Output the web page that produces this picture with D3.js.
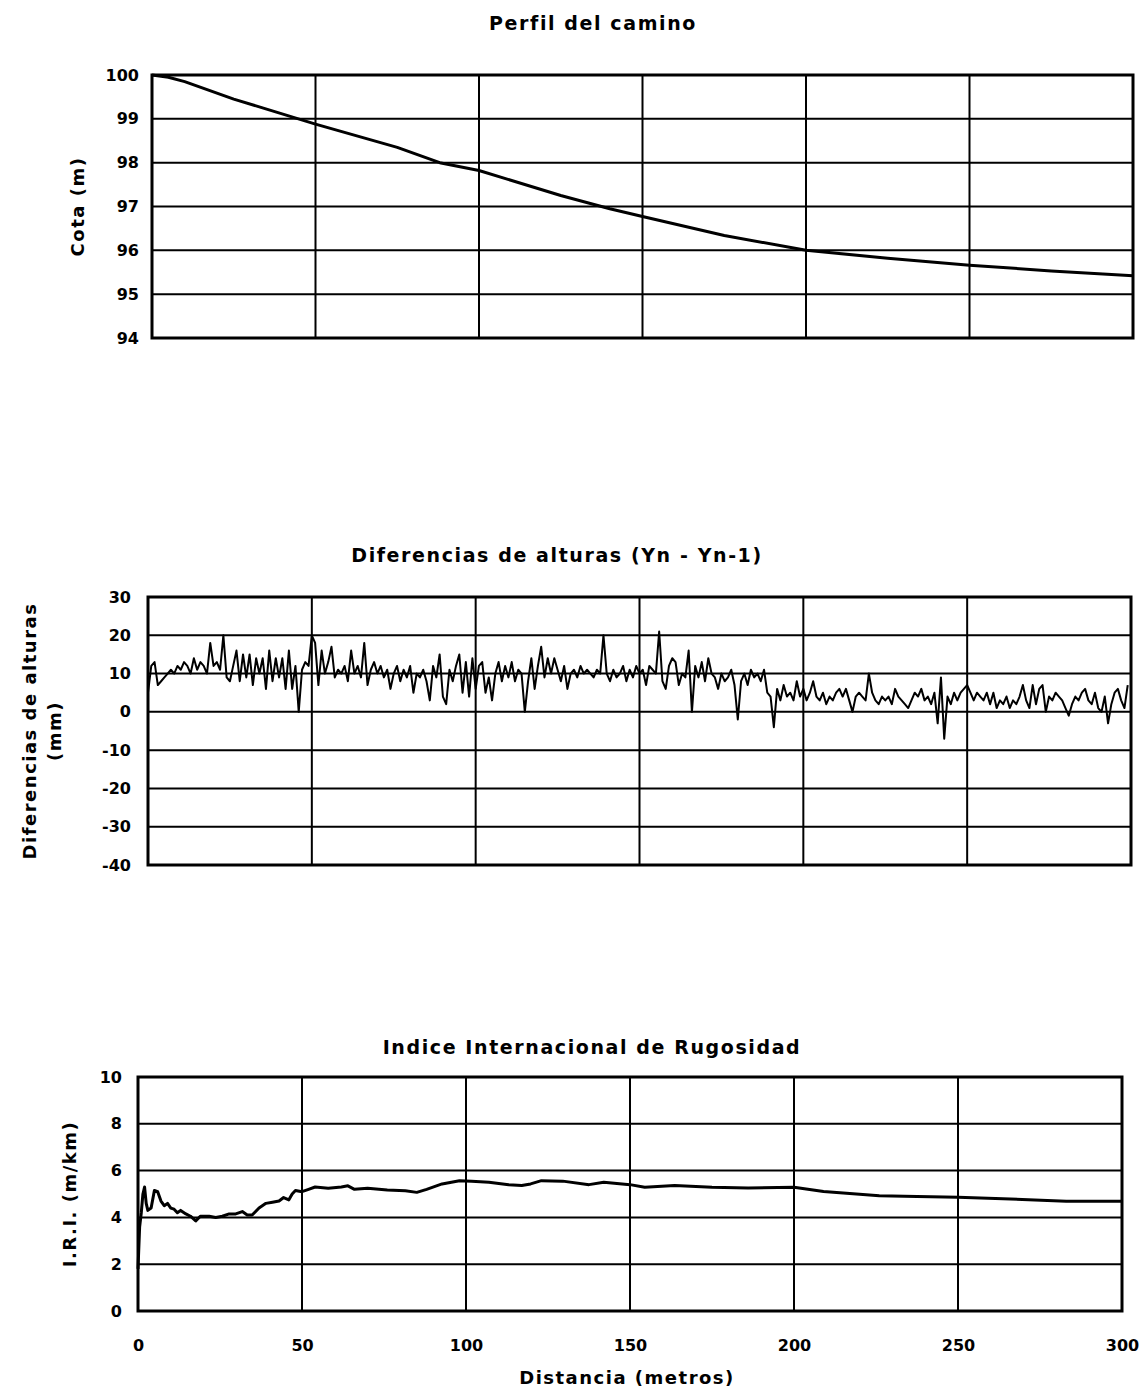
<!DOCTYPE html>
<html>
<head>
<meta charset="utf-8">
<script src="https://cdn.jsdelivr.net/npm/d3@7"></script>
<style>
    body { margin: 0; background: #fff; }
    text { font-family: "DejaVu Sans", sans-serif; font-weight: bold; fill: #000; }
</style>
</head>
<body>
<div id="chart"></div>
<script>
// distance axis (metros)
const distTicks = [0, 50, 100, 150, 200, 250, 300];
const distGrid = [50, 100, 150, 200, 250];

// Perfil del camino
const perfilX = [0, 5, 10, 25, 50, 75, 88, 100, 125, 140, 150, 175, 200, 225, 250, 275, 300];
const perfilCota = [100, 99.95, 99.85, 99.45, 98.88, 98.35, 98.0, 97.82, 97.25, 96.95, 96.77,
    96.34, 96.0, 95.82, 95.66, 95.53, 95.42];
const cotaTicks = [94, 95, 96, 97, 98, 99, 100];

// Diferencias de alturas (Yn - Yn-1), one reading per metre
const difStep = 1;
const difValues = [
    5, 12, 13, 7, 8, 9, 10, 11, 10, 12,
    11, 13, 12, 10, 14, 11, 13, 12, 10, 18,
    12, 13, 11, 20, 9, 8, 12, 16, 8, 15,
    9, 15, 7, 14, 10, 14, 6, 16, 8, 14,
    9, 14, 6, 16, 6, 12, 0, 11, 13, 12,
    20, 18, 7, 16, 10, 13, 17, 9, 11, 10,
    12, 8, 16, 10, 12, 9, 18, 7, 11, 13,
    10, 12, 9, 11, 6, 10, 12, 8, 11, 9,
    12, 5, 10, 9, 11, 8, 3, 12, 9, 15,
    4, 2, 11, 8, 12, 15, 5, 13, 4, 14,
    6, 12, 13, 5, 9, 3, 10, 13, 8, 12,
    9, 13, 8, 11, 10, 0, 8, 14, 6, 12,
    17, 9, 14, 10, 14, 11, 8, 12, 6, 10,
    11, 9, 12, 10, 11, 10, 9, 11, 10, 20,
    10, 8, 11, 9, 10, 12, 8, 11, 9, 12,
    10, 11, 7, 12, 11, 10, 21, 8, 6, 12,
    14, 13, 7, 10, 9, 16, 0, 12, 9, 13,
    8, 14, 10, 9, 6, 10, 8, 9, 11, 7,
    -2, 8, 10, 7, 11, 9, 10, 8, 11, 5,
    4, -4, 6, 3, 7, 4, 5, 3, 8, 4,
    6, 3, 5, 8, 4, 3, 5, 2, 4, 3,
    5, 6, 4, 6, 3, 0, 4, 5, 4, 3,
    10, 5, 3, 2, 4, 3, 4, 2, 6, 4,
    3, 2, 1, 3, 5, 4, 6, 3, 4, 2,
    5, -3, 9, -7, 4, 2, 5, 3, 5, 6,
    7, 5, 3, 5, 4, 3, 5, 2, 5, 1,
    3, 2, 4, 1, 3, 2, 4, 7, 3, 1,
    7, 2, 6, 7, 0, 4, 3, 5, 4, 3,
    1, -1, 2, 4, 3, 5, 6, 3, 2, 5,
    1, 0, 4, -3, 2, 5, 6, 3, 1, 7,
];
const difTicks = [-40, -30, -20, -10, 0, 10, 20, 30];

// Indice Internacional de Rugosidad
const iriX = [0, 0.5, 1, 1.5, 2, 2.5, 3, 4, 5, 6, 7, 8, 9, 10, 11, 12, 13, 14.6, 16, 17.6, 19,
    21.7, 23.7, 25.7, 27.8, 29.8, 31.8, 33.3, 34.8, 36.9, 39, 41, 43, 44.4, 46, 47, 48, 50, 52,
    54, 58, 62, 64, 66, 70, 76, 81.5, 85, 88, 92.7, 98, 101.7, 107, 113, 117, 119.7, 123, 129.5,
    137.5, 142, 150, 154.5, 163.6, 175, 186, 200, 209, 226, 237.5, 250, 266, 283, 300];
const iriValues = [1.8, 3.6, 4.2, 5.0, 5.3, 4.6, 4.3, 4.4, 5.15, 5.1, 4.7, 4.5, 4.6, 4.4, 4.35,
    4.2, 4.3, 4.15, 4.05, 3.85, 4.05, 4.05, 4.0, 4.05, 4.15, 4.15, 4.25, 4.1, 4.1, 4.4, 4.6, 4.65,
    4.7, 4.85, 4.75, 5.0, 5.15, 5.1, 5.2, 5.3, 5.25, 5.3, 5.35, 5.2, 5.25, 5.17, 5.14, 5.07, 5.2,
    5.43, 5.57, 5.54, 5.5, 5.4, 5.36, 5.43, 5.57, 5.55, 5.4, 5.5, 5.4, 5.29, 5.36, 5.29, 5.26,
    5.29, 5.11, 4.93, 4.89, 4.86, 4.79, 4.69, 4.69];
const iriTicks = [0, 2, 4, 6, 8, 10];

const svg = d3.select('#chart')
    .append('svg')
    .attr('width', 1148)
    .attr('height', 1393);

// plain hyphen for negatives, like the original sheet
const tickFmt = d => String(d);

function drawPanel(p) {
    const x = d3.scaleLinear().domain([0, 300]).range([p.left, p.right]);
    const y = d3.scaleLinear().domain(d3.extent(p.yTicks)).range([p.bottom, p.top]);
    const g = svg.append('g');

    // grid
    g.append('g').selectAll('line')
        .data(p.yTicks.slice(1, -1))
        .enter()
        .append('line')
        .attr('x1', p.left).attr('x2', p.right)
        .attr('y1', d => y(d)).attr('y2', d => y(d))
        .attr('stroke', '#000').attr('stroke-width', 2);
    g.append('g').selectAll('line')
        .data(distGrid)
        .enter()
        .append('line')
        .attr('x1', d => x(d)).attr('x2', d => x(d))
        .attr('y1', p.top).attr('y2', p.bottom)
        .attr('stroke', '#000').attr('stroke-width', 2);

    // y axis labels
    g.append('g')
        .attr('transform', 'translate(' + p.left + ',0)')
        .call(d3.axisLeft(y).tickValues(p.yTicks).tickFormat(tickFmt).tickSize(0).tickPadding(p.yPad))
        .call(a => a.select('.domain').remove())
        .selectAll('text')
        .style('font-size', '16px')
        .style('font-family', '"DejaVu Sans", sans-serif');

    if (p.xLabels) {
        g.append('g')
            .attr('transform', 'translate(0,' + p.bottom + ')')
            .call(d3.axisBottom(x).tickValues(distTicks).tickFormat(tickFmt).tickSize(0).tickPadding(29))
            .call(a => a.select('.domain').remove())
            .selectAll('text')
            .style('font-size', '16px')
            .style('font-family', '"DejaVu Sans", sans-serif');
    }

    // the data line
    g.append('path')
        .datum(p.data)
        .attr('fill', 'none')
        .attr('stroke', '#000')
        .attr('stroke-width', p.lineWidth)
        .attr('stroke-linejoin', 'round')
        .attr('d', d3.line()
            .x(d => x(d[0]))
            .y(d => y(d[1])));

    // plot border
    g.append('rect')
        .attr('x', p.left).attr('y', p.top)
        .attr('width', p.right - p.left).attr('height', p.bottom - p.top)
        .attr('fill', 'none').attr('stroke', '#000').attr('stroke-width', 3);

    // title
    g.append('text')
        .attr('x', p.titleX).attr('y', p.titleY)
        .attr('text-anchor', 'middle')
        .style('font-size', '19px')
        .style('letter-spacing', '1.6px')
        .text(p.title);

    // y title, one text per line
    p.yTitle.forEach(t => {
        g.append('text')
            .attr('transform', 'translate(' + t.x + ',' + ((p.top + p.bottom) / 2) + ') rotate(-90)')
            .attr('text-anchor', 'middle')
            .style('font-size', '18px')
            .style('letter-spacing', '1.5px')
            .text(t.text);
    });
}

drawPanel({
    left: 152, right: 1133, top: 75, bottom: 338,
    yTicks: cotaTicks, yPad: 13,
    data: perfilX.map((d, i) => [d, perfilCota[i]]),
    lineWidth: 3,
    title: 'Perfil del camino', titleX: 593, titleY: 30,
    yTitle: [{ x: 84, text: 'Cota (m)' }],
});

drawPanel({
    left: 148, right: 1131, top: 597, bottom: 865,
    yTicks: difTicks, yPad: 17,
    data: difValues.map((d, i) => [i * difStep, d]),
    lineWidth: 2,
    title: 'Diferencias de alturas (Yn - Yn-1)', titleX: 557, titleY: 562,
    yTitle: [{ x: 36, text: 'Diferencias de alturas' }, { x: 61, text: '(mm)' }],
});

drawPanel({
    left: 138, right: 1122, top: 1077, bottom: 1311,
    yTicks: iriTicks, yPad: 16,
    data: iriX.map((d, i) => [d, iriValues[i]]),
    lineWidth: 3,
    xLabels: true,
    title: 'Indice Internacional de Rugosidad', titleX: 592, titleY: 1054,
    yTitle: [{ x: 76, text: 'I.R.I. (m/km)' }],
});

svg.append('text')
    .attr('x', 627).attr('y', 1384)
    .attr('text-anchor', 'middle')
    .style('font-size', '18px')
    .style('letter-spacing', '1.5px')
    .text('Distancia (metros)');
</script>
</body>
</html>
